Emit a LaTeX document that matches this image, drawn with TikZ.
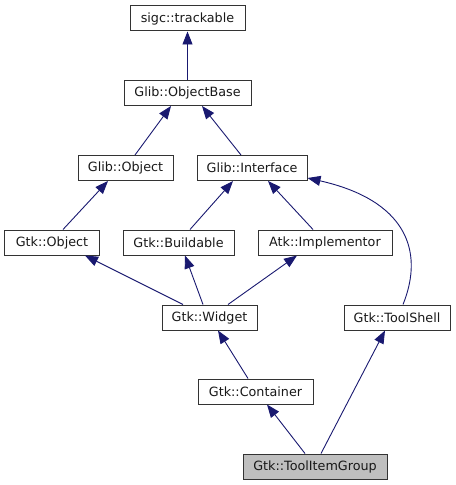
\documentclass[tikz,border=0pt]{standalone}
\usepackage{fontspec}
\setmainfont{DejaVu Sans}
\usetikzlibrary{arrows.meta}
\definecolor{edgeblue}{HTML}{191970}
\tikzset{
  cls/.style={draw=black!80, line width=1bp, fill=white, inner sep=0pt, minimum height=25bp,
    font=\fontsize{12.8}{14}\selectfont, text=black!90},
  cur/.style={cls, fill=black!25},
  edge/.style={draw=edgeblue, line width=0.9bp, -{Triangle[length=13bp,width=10bp]}},
}
\begin{document}
\begin{tikzpicture}[x=1bp,y=-1bp]
\useasboundingbox (0,0) rectangle (456,485);
\node[cls, minimum width=115bp] (track) at (187.5,18.5) {sigc::trackable};
\node[cls, minimum width=127bp] (objbase) at (187.5,93) {Glib::ObjectBase};
\node[cls, minimum width=95bp] (gobject) at (125.5,168) {Glib::Object};
\node[cls, minimum width=110bp] (giface) at (252,168) {Glib::Interface};
\node[cls, minimum width=94bp] (gtkobj) at (52,242.5) {Gtk::Object};
\node[cls, minimum width=111bp] (build) at (178.5,242.5) {Gtk::Buildable};
\node[cls, minimum width=134bp] (impl) at (325,242.5) {Atk::Implementor};
\node[cls, minimum width=95bp] (widget) at (209.5,317.5) {Gtk::Widget};
\node[cls, minimum width=106bp] (toolshell) at (397,317.5) {Gtk::ToolShell};
\node[cls, minimum width=115bp] (container) at (255.5,391.5) {Gtk::Container};
\node[cur, minimum width=144bp] (tig) at (315,466.5) {Gtk::ToolItemGroup};

\draw[edge] (objbase.north) -- (track.south);
\draw[edge] ([xshift=9.5bp]gobject.north) -- ([xshift=-16.5bp]objbase.south);
\draw[edge] ([xshift=-11bp]giface.north) -- ([xshift=14.5bp]objbase.south);
\draw[edge] ([xshift=11bp]gtkobj.north) -- ([xshift=-17.5bp]gobject.south);
\draw[edge] ([xshift=11.5bp]build.north) -- ([xshift=-19bp]giface.south);
\draw[edge] ([xshift=-12bp]impl.north) -- ([xshift=16bp]giface.south);
\draw[edge] ([xshift=-26.5bp]widget.north) -- ([xshift=33bp]gtkobj.south);
\draw[edge] ([xshift=-6.5bp]widget.north) -- ([xshift=6.5bp]build.south);
\draw[edge] ([xshift=18.5bp]widget.north) -- ([xshift=-28bp]impl.south);
\draw[edge] ([xshift=-7.5bp]container.north) -- ([xshift=8.5bp]widget.south);
\draw[edge] ([xshift=-10bp]tig.north) -- ([xshift=11.5bp]container.south);
\draw[edge] ([xshift=6bp]tig.north) -- ([xshift=-12bp]toolshell.south);
\draw[edge] ([xshift=6bp]toolshell.north) .. controls (425,250) and (405,200) .. ([yshift=-10bp]giface.east);
\end{tikzpicture}
\end{document}
